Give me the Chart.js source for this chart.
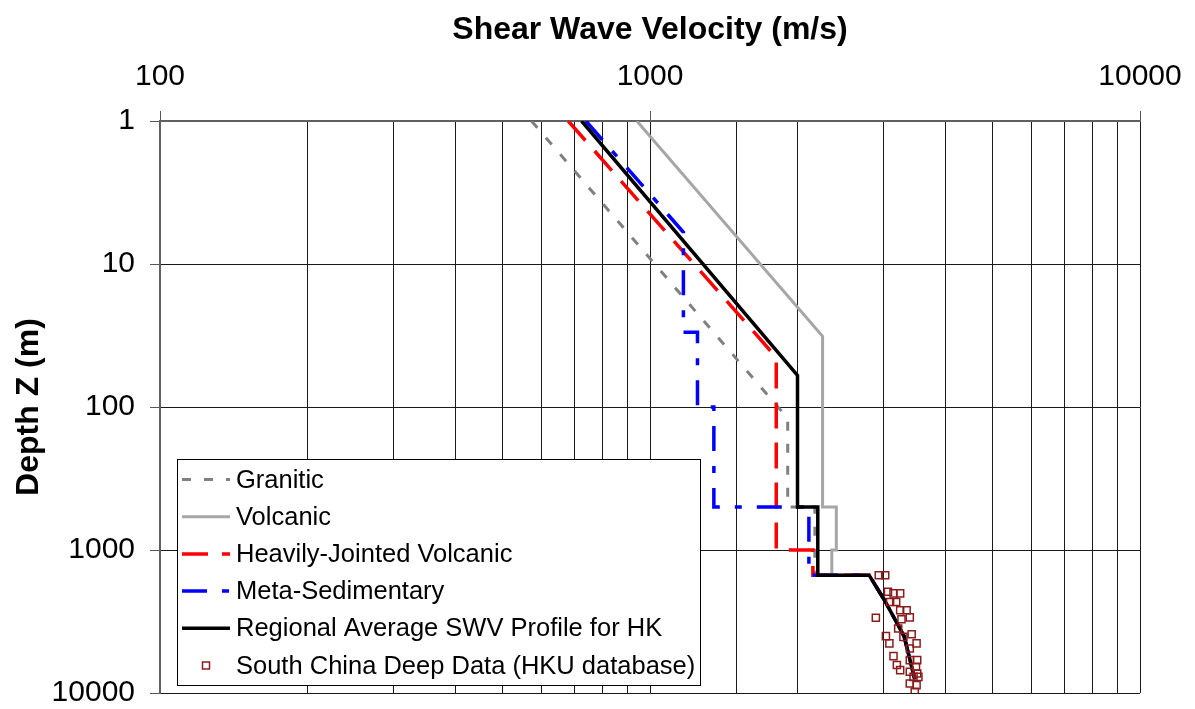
<!DOCTYPE html>
<html>
<head>
<meta charset="utf-8">
<title>Shear Wave Velocity Profiles</title>
<script src="https://cdn.jsdelivr.net/npm/chart.js@4.4.1/dist/chart.umd.min.js"></script>
<style>
  html, body { margin: 0; padding: 0; background: #fff; }
  #wrap { position: relative; width: 1195px; height: 709px; }
</style>
</head>
<body>
<div id="wrap"><canvas id="swvChart"></canvas></div>
<script>
// Shear wave velocity (m/s) against depth Z (m)
const graniticVs = [573, 1910, 1910, 2170, 2170, 2800, 3000, 3300, 3470];
const graniticZ  = [1, 120, 500, 500, 1500, 1500, 2200, 4000, 8000];

const volcanicVs = [940, 2250, 2250, 2400, 2400, 2350, 2350, 2800, 3000, 3300, 3470];
const volcanicZ  = [1, 32, 500, 500, 1000, 1000, 1500, 1500, 2200, 4000, 8000];

const jointedVs = [681, 1810, 1810, 2150, 2150, 2800, 3000, 3300, 3470];
const jointedZ  = [1, 45, 1000, 1000, 1500, 1500, 2200, 4000, 8000];

const metaSedVs = [740, 1170, 1170, 1250, 1250, 1350, 1350, 2110, 2110, 2800, 3000, 3300, 3470];
const metaSedZ  = [1, 6, 30, 30, 100, 100, 500, 500, 1500, 1500, 2200, 4000, 8000];

const regionalVs = [725, 2000, 2000, 2200, 2200, 2800, 3000, 3300, 3470];
const regionalZ  = [1, 60, 500, 500, 1500, 1500, 2200, 4000, 8000];

// South China deep data (HKU database)
const deepVs = [2930, 3020, 3060, 3140, 3240, 3090, 3180, 3240, 3340, 3390, 3260, 2890, 3210, 3030, 3420, 3290,
                3080, 3500, 3390, 3140, 3390, 3510, 3490, 3190, 3240, 3390, 3510, 3450, 3530, 3390, 3500, 3470];
const deepZ  = [1500, 1500, 1960, 2010, 2010, 2310, 2310, 2640, 2640, 2960, 3050, 2980, 3540, 4000, 3880, 4050,
                4500, 4500, 4880, 5520, 5890, 5890, 6560, 6380, 6920, 7110, 7300, 7710, 7710, 8570, 8810, 9810];

const fontFamily = "'Liberation Sans', Arial, sans-serif";

function toPoints(vs, z) {
    return vs.map((v, i) => ({ x: v, y: z[i] }));
}

function isDecade(v) {
    const e = Math.log10(v);
    return Math.abs(e - Math.round(e)) < 1e-6;
}

// no extra room for overhanging tick labels, the plot box is fixed
function noLabelPadding(scale) {
    scale.paddingLeft = 0;
    scale.paddingRight = 0;
    scale.paddingTop = 0;
    scale.paddingBottom = 0;
}

// legend drawn as a boxed panel inside the plot, lower left
const boxLegend = {
    id: 'boxLegend',
    afterDatasetsDraw(chart) {
        const { ctx, chartArea } = chart;
        const left = chartArea.left + 17;
        const top = chartArea.bottom - 234;
        const w = 523, h = 226;
        ctx.save();
        ctx.fillStyle = '#fff';
        ctx.fillRect(left, top, w, h);
        ctx.strokeStyle = '#000';
        ctx.lineWidth = 1;
        ctx.setLineDash([]);
        ctx.strokeRect(left + 0.5, top + 0.5, w, h);

        ctx.font = '25.5px ' + fontFamily;
        ctx.textBaseline = 'middle';
        ctx.textAlign = 'left';
        chart.data.datasets.forEach((ds, i) => {
            const y = top + 20.5 + i * 37.2;
            if (ds.showLine) {
                ctx.beginPath();
                ctx.setLineDash(ds.borderDash || []);
                ctx.lineDashOffset = 0;
                ctx.strokeStyle = ds.borderColor;
                ctx.lineWidth = ds.borderWidth;
                ctx.moveTo(left + 5, y);
                ctx.lineTo(left + 53, y);
                ctx.stroke();
            } else {
                ctx.setLineDash([]);
                ctx.strokeStyle = ds.borderColor;
                ctx.lineWidth = 1.5;
                ctx.strokeRect(left + 25.5, y - 3.5, 7, 7);
            }
            ctx.fillStyle = '#000';
            ctx.fillText(ds.label, left + 59, y + 1);
        });
        ctx.restore();
    }
};

const ctx = document.getElementById('swvChart').getContext('2d');

const data = {
    datasets: [
        {
            label: 'Granitic',
            data: toPoints(graniticVs, graniticZ),
            showLine: true,
            borderColor: '#808080',
            borderWidth: 3,
            borderDash: [9, 13],
            pointRadius: 0,
            order: 5
        },
        {
            label: 'Volcanic',
            data: toPoints(volcanicVs, volcanicZ),
            showLine: true,
            borderColor: '#a6a6a6',
            borderWidth: 3,
            pointRadius: 0,
            order: 4
        },
        {
            label: 'Heavily-Jointed Volcanic',
            data: toPoints(jointedVs, jointedZ),
            showLine: true,
            borderColor: '#ff0000',
            borderWidth: 3.5,
            borderDash: [26, 14],
            pointRadius: 0,
            order: 3
        },
        {
            label: 'Meta-Sedimentary',
            data: toPoints(metaSedVs, metaSedZ),
            showLine: true,
            borderColor: '#0000ff',
            borderWidth: 3.5,
            borderDash: [25, 15, 7, 15],
            pointRadius: 0,
            order: 2
        },
        {
            label: 'Regional Average SWV Profile for HK',
            data: toPoints(regionalVs, regionalZ),
            showLine: true,
            borderColor: '#000000',
            borderWidth: 3.5,
            pointRadius: 0,
            order: 1
        },
        {
            label: 'South China Deep Data (HKU database)',
            data: toPoints(deepVs, deepZ),
            showLine: false,
            borderColor: '#8c1c1c',
            backgroundColor: 'rgba(0,0,0,0)',
            borderWidth: 1.5,
            pointStyle: 'rect',
            pointRadius: 5,
            order: 0
        }
    ]
};

const config = {
    type: 'scatter',
    data: data,
    plugins: [boxLegend],
    options: {
        responsive: true,
        maintainAspectRatio: false,
        animation: false,
        layout: {
            padding: { left: 0, top: 0, right: 55, bottom: 16 }
        },
        plugins: {
            legend: { display: false },
            tooltip: { enabled: false }
        },
        scales: {
            x: {
                type: 'logarithmic',
                position: 'top',
                min: 100,
                max: 10000,
                afterFit: function(scale) {
                    scale.height = 121;
                    noLabelPadding(scale);
                },
                title: {
                    display: true,
                    text: 'Shear Wave Velocity (m/s)',
                    color: '#000',
                    font: { family: fontFamily, size: 32, weight: 'bold' },
                    padding: { top: 11, bottom: 0 }
                },
                ticks: {
                    autoSkip: false,
                    maxRotation: 0,
                    padding: 19,
                    color: '#000',
                    font: { family: fontFamily, size: 30, lineHeight: 1 },
                    callback: function(value) {
                        return isDecade(value) ? String(Math.round(value)) : '';
                    }
                },
                grid: {
                    color: '#1a1a1a',
                    lineWidth: 1,
                    tickLength: 10,
                    tickColor: function(c) {
                        return c.tick && isDecade(c.tick.value) ? '#555' : 'rgba(0,0,0,0)';
                    }
                },
                border: { color: '#606060', width: 2 }
            },
            y: {
                type: 'logarithmic',
                position: 'left',
                reverse: true,
                min: 1,
                max: 10000,
                afterFit: function(scale) {
                    scale.width = 160;
                    noLabelPadding(scale);
                },
                afterBuildTicks: function(scale) {
                    scale.ticks = scale.ticks.filter(t => isDecade(t.value));
                },
                title: {
                    display: true,
                    text: 'Depth Z (m)',
                    color: '#000',
                    font: { family: fontFamily, size: 32, weight: 'bold' },
                    padding: { top: 10, bottom: 0 }
                },
                ticks: {
                    autoSkip: false,
                    padding: 15,
                    color: '#000',
                    font: { family: fontFamily, size: 30, lineHeight: 1 },
                    callback: function(value) {
                        return String(Math.round(value));
                    }
                },
                grid: {
                    color: '#1a1a1a',
                    lineWidth: 1,
                    tickLength: 10,
                    tickColor: '#555'
                },
                border: { color: '#606060', width: 2 }
            }
        }
    }
};

const swvChart = new Chart(ctx, config);
</script>
</body>
</html>
